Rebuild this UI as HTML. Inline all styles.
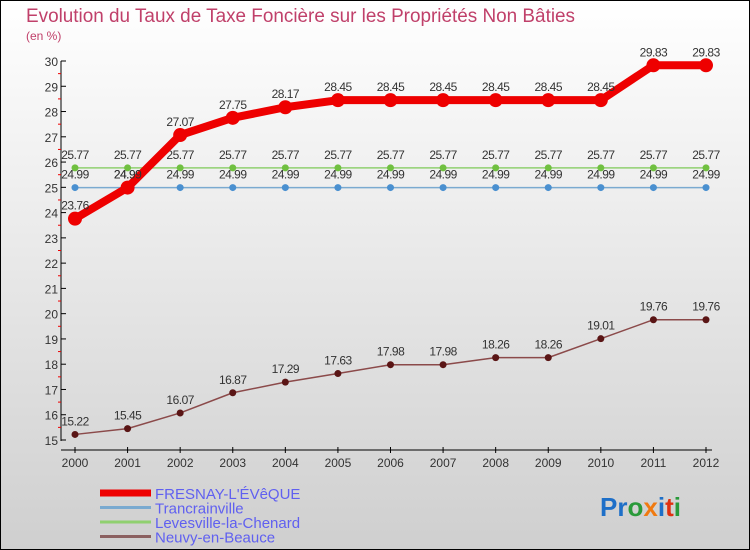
<!DOCTYPE html>
<html><head><meta charset="utf-8"><style>
body{margin:0}
#c{width:750px;height:550px;position:relative;box-sizing:border-box;border:1px solid #000;background:linear-gradient(#ffffff,#cfcfcf);font-family:"Liberation Sans",sans-serif;overflow:hidden}
</style></head><body>
<div id="c">
<svg id="s" width="750" height="550" style="position:absolute;left:-1px;top:-1px">
<text x="26" y="22" font-size="19" textLength="549" lengthAdjust="spacingAndGlyphs" fill="#c0406a">Evolution du Taux de Taxe Foncière sur les Propriétés Non Bâties</text>
<text x="26" y="40" font-size="12" fill="#c0406a">(en %)</text>
<g id="g"></g>
<text x="600" y="516" font-size="26" font-weight="bold"><tspan fill="#1e6fc8">Pr</tspan><tspan fill="#2a9a3a">o</tspan><tspan fill="#f07a10">x</tspan><tspan fill="#1e6fc8">i</tspan><tspan fill="#e03010">t</tspan><tspan fill="#2a9a3a">i</tspan></text>
</svg></div>
<script>
const years=[2000,2001,2002,2003,2004,2005,2006,2007,2008,2009,2010,2011,2012];
const fresnay=[23.76,24.99,27.07,27.75,28.17,28.45,28.45,28.45,28.45,28.45,28.45,29.83,29.83];
const tranc=[24.99,24.99,24.99,24.99,24.99,24.99,24.99,24.99,24.99,24.99,24.99,24.99,24.99];
const leves=[25.77,25.77,25.77,25.77,25.77,25.77,25.77,25.77,25.77,25.77,25.77,25.77,25.77];
const neuvy=[15.22,15.45,16.07,16.87,17.29,17.63,17.98,17.98,18.26,18.26,19.01,19.76,19.76];
const yTicks=[15,16,17,18,19,20,21,22,23,24,25,26,27,28,29,30];
const ns="http://www.w3.org/2000/svg",g=document.getElementById('g');
const X=i=>75+i*(706-75)/12, Y=v=>440-(v-15)*(440-61)/15;
function el(t,a,p){const e=document.createElementNS(ns,t);for(const k in a)e.setAttribute(k,a[k]);(p||g).appendChild(e);return e;}
let e=el('line',{x1:61,y1:61,x2:61,y2:441,stroke:'#000'});

e=el('line',{x1:61,y1:450,x2:712,y2:450,stroke:'#000'});

yTicks.forEach(v=>{el('line',{x1:61,y1:Y(v),x2:66,y2:Y(v),stroke:'#000'});
if(v<30)el('line',{x1:58,y1:Y(v+.5),x2:61,y2:Y(v+.5),stroke:'#e00'});
const t=el('text',{x:58,y:Y(v)+5,'font-size':12,fill:'#333','text-anchor':'end'});t.textContent=v;
});
years.forEach((y,i)=>{el('line',{x1:X(i),y1:447,x2:X(i),y2:453,stroke:'#000'});
const t=el('text',{x:X(i),y:467,'font-size':12,fill:'#333','text-anchor':'middle'});t.textContent=y;
});
function series(d,col,w,r,name,dot){
const p=el('polyline',{points:d.map((v,i)=>X(i)+','+Y(v)).join(' '),fill:'none',stroke:col,'stroke-width':w,'stroke-linejoin':'round'});

d.forEach((v,i)=>{const c=el('circle',{cx:X(i),cy:Y(v),r:r,fill:dot});

const t=el('text',{x:X(i),y:Y(v)-9,'font-size':12,fill:'#333','text-anchor':'middle','letter-spacing':'-0.5'});t.textContent=v.toFixed(2);
});}
series(neuvy,'#8b4a4a',1.5,3.5,'neuvy','#5a1515');
series(leves,'#90d070',1.5,3.5,'levesville','#70c040');
series(tranc,'#7aaad0',1.5,3.5,'trancrainville','#4a90d0');
series(fresnay,'#ee0000',8,7,'fresnay','#ee0000');
const leg=[['FRESNAY-L\'ÉVêQUE','#ee0000',7],['Trancrainville','#7aaad0',3],['Levesville-la-Chenard','#90d070',3],['Neuvy-en-Beauce','#8b6060',3]];
leg.forEach((l,i)=>{const y=493+i*14.5;el('line',{x1:100,y1:y,x2:151,y2:y,stroke:l[1],'stroke-width':l[2]});
const t=el('text',{x:155,y:y+6,'font-size':15,fill:'#6060f0'});t.textContent=l[0];
});
</script>
</body></html>
